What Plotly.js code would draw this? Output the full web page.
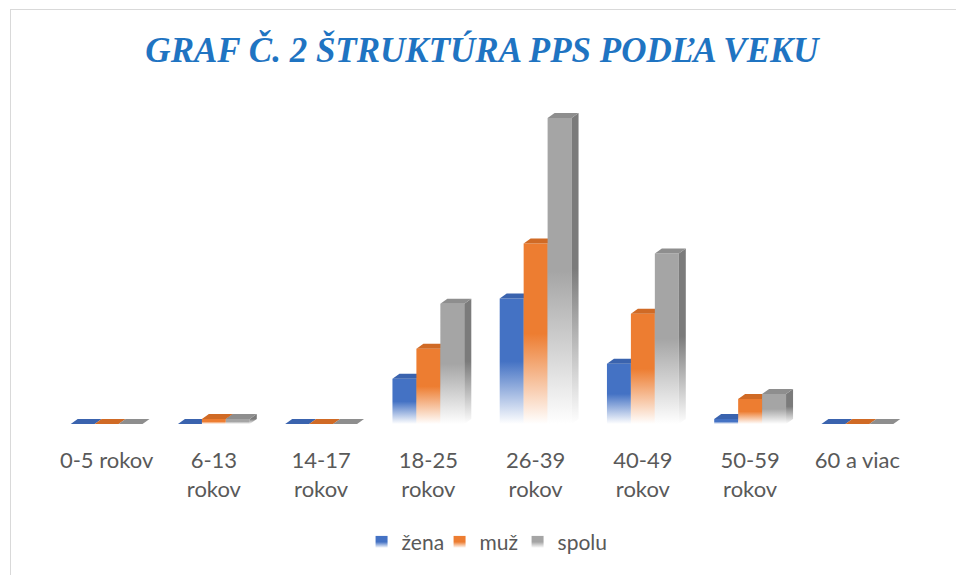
<!DOCTYPE html>
<html>
<head>
<meta charset="utf-8">
<script src="https://cdn.plot.ly/plotly-3.0.1.min.js"></script>
<style>
  html, body { margin: 0; padding: 0; background: #fff; }
  #chart { width: 956px; height: 575px; position: absolute; left: 0; top: 0; }
  #frame { position: absolute; left: 10px; top: 9px; width: 960px; height: 580px;
           border-left: 1px solid #d9d9d9; border-top: 1px solid #d9d9d9; pointer-events: none; }
</style>
</head>
<body>
<div id="chart"></div>
<div id="frame"></div>
<script>
const categories = ['0-5 rokov', '6-13<br>rokov', '14-17<br>rokov', '18-25<br>rokov',
                    '26-39<br>rokov', '40-49<br>rokov', '50-59<br>rokov', '60 a viac'];
const zena  = [0, 0, 0, 9, 25, 12, 1, 0];
const muz   = [0, 1, 0, 15, 36, 22, 5, 0];
const spolu = [0, 1, 0, 24, 61, 34, 6, 0];
const seriesNames = ['žena', 'muž', 'spolu'];
const seriesColors = ['#4472C4', '#ED7D31', '#A5A5A5'];
const sideColors = ['#2F5597', '#B4581F', '#7B7B7B'];
const topColors = ['#3A63AE', '#D06A25', '#8E8E8E'];
const titleText = 'GRAF Č. 2 ŠTRUKTÚRA PPS PODĽA VEKU';

const seriesValues = [zena, muz, spolu];
const data = seriesValues.map((vals, i) => ({
  type: 'bar',
  name: seriesNames[i],
  x: categories,
  y: vals,
  marker: { color: seriesColors[i], line: { width: 0 } },
  hoverinfo: 'none'
}));

const layout = {
  width: 956, height: 575,
  margin: { l: 53, r: 45, t: 100, b: 149 },
  paper_bgcolor: '#ffffff', plot_bgcolor: '#ffffff',
  title: {
    text: titleText,
    x: 0.5, xref: 'paper', xanchor: 'center',
    y: 48, yref: 'container', yanchor: 'middle',
    font: { family: 'Liberation Serif, Times New Roman, serif', size: 35, color: '#1F74C2', weight: 'bold', style: 'italic' }
  },
  barmode: 'group',
  bargap: 0.33,
  bargroupgap: 0,
  showlegend: true,
  legend: {
    orientation: 'h', x: 0.496, xanchor: 'center', y: -0.365, yanchor: 'middle',
    font: { family: 'Lato, Carlito, sans-serif', size: 21, color: '#595959' },
    itemwidth: 30, traceorder: 'normal', entrywidth: 33, entrywidthmode: 'pixels'
  },
  xaxis: {
    type: 'category',
    showgrid: false, zeroline: false, showline: false,
    ticks: 'outside', ticklen: 17, tickcolor: 'rgba(0,0,0,0)',
    tickfont: { family: 'Lato, Carlito, sans-serif', size: 22, color: '#595959' },
    fixedrange: true
  },
  yaxis: {
    range: [0, 64.6],
    visible: false, showgrid: false, zeroline: false, fixedrange: true
  }
};

function svgEl(name, attrs) {
  const el = document.createElementNS('http://www.w3.org/2000/svg', name);
  for (const k in attrs) el.setAttribute(k, attrs[k]);
  return el;
}

function addGradient(defs, id, color) {
  const g = svgEl('linearGradient', { id: id, x1: '0', y1: '0', x2: '0', y2: '1' });
  g.appendChild(svgEl('stop', { offset: '0', 'stop-color': color, 'stop-opacity': '1' }));
  g.appendChild(svgEl('stop', { offset: '0.5', 'stop-color': color, 'stop-opacity': '1' }));
  g.appendChild(svgEl('stop', { offset: '1', 'stop-color': '#ffffff', 'stop-opacity': '1' }));
  defs.appendChild(g);
}

function decorate(gd) {
  const svg = gd.querySelector('.main-svg');
  let defs = svg.querySelector('defs');
  if (!defs) { defs = svgEl('defs', {}); svg.insertBefore(defs, svg.firstChild); }
  seriesColors.forEach((c, i) => {
    addGradient(defs, 'gfront' + i, c);
    addGradient(defs, 'gside' + i, sideColors[i]);
  });
  const xa = gd._fullLayout.xaxis, ya = gd._fullLayout.yaxis;
  const dx = 7, dy = -5;
  const traces = gd.querySelectorAll('.barlayer .trace.bars');
  traces.forEach((tg, i) => {
    const cd = gd.calcdata[i];
    const extra = svgEl('g', { class: 'depth' });
    const paths = tg.querySelectorAll('.point path');
    paths.forEach((p, j) => {
      p.style.fill = 'url(#gfront' + i + ')';
      const di = cd[j];
      let x0 = xa.c2p(di.p0, true), x1 = xa.c2p(di.p1, true);
      let yb = ya.c2p(0, true);
      let yt = ya.c2p(di.s1 !== undefined ? di.s1 : di.s, true);
      const m = (p.getAttribute('d') || '').match(/M([\d.\-]+),([\d.\-]+)V([\d.\-]+)H([\d.\-]+)/);
      if (m) { x0 = +m[1]; yb = +m[2]; yt = +m[3]; x1 = +m[4]; }
      if (!isFinite(x0) || !isFinite(x1)) return;
      const top = svgEl('polygon', {
        points: [x0, yt, x0 + dx, yt + dy, x1 + dx, yt + dy, x1, yt].join(' '),
        fill: topColors[i]
      });
      if (yb - yt > 0.5) {
        const side = svgEl('polygon', {
          points: [x1, yt, x1 + dx, yt + dy, x1 + dx, yb + dy, x1, yb].join(' '),
          fill: 'url(#gside' + i + ')'
        });
        extra.appendChild(side);
      }
      extra.appendChild(top);
    });
    tg.appendChild(extra);
  });
  gd.querySelectorAll('.legend .traces').forEach((lt, i) => {
    lt.querySelectorAll('.legendpoints path').forEach(p => { p.style.fill = 'url(#gfront' + i + ')'; });
  });
  gd.querySelectorAll('.legend [clip-path]').forEach(e => e.removeAttribute('clip-path'));
}

const gd = document.getElementById('chart');
Plotly.newPlot(gd, data, layout, { staticPlot: true, displayModeBar: false }).then(() => decorate(gd));
</script>
</body>
</html>
